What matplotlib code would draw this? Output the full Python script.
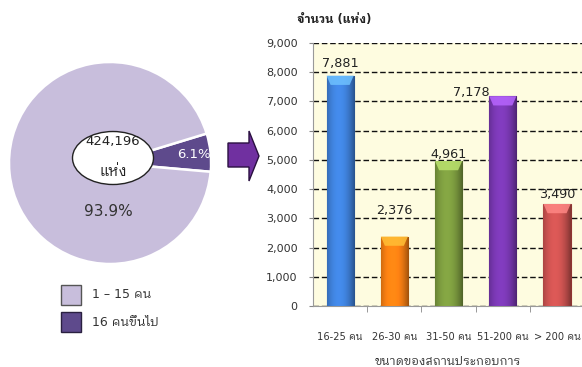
import matplotlib
matplotlib.use("Agg")
import matplotlib.pyplot as plt
from matplotlib import font_manager as fm
from matplotlib.patches import Ellipse, Polygon, Rectangle
from matplotlib.colors import to_rgb
import numpy as np

weights = {}
for f in fm.fontManager.ttflist:
    w = f.weight if isinstance(f.weight, int) else 400
    weights.setdefault(f.name, set()).add(w)
cands = ["Noto Sans Thai Looped", "IBM Plex Sans Thai Looped", "Sarabun",
         "Noto Sans Thai", "IBM Plex Sans Thai", "Kanit", "Prompt"]
thai_font = None
for cand in cands:
    if cand in weights and 400 in weights[cand] and 700 in weights[cand]:
        thai_font = cand
        break
if thai_font is None:
    for cand in cands:
        if cand in weights:
            thai_font = cand
            break
families = ["DejaVu Sans"] + ([thai_font] if thai_font else [])
plt.rcParams['font.family'] = families

# ---- data ----
pie_labels = ["1 – 15 คน", "16 คนขึ้นไป"]
pie_values = [93.9, 6.1]
total_text = "424,196"
total_unit = "แห่ง"

categories = ["16-25 คน", "26-30 คน", "31-50 คน", "51-200 คน", "> 200 คน"]
counts = [7881, 2376, 4961, 7178, 3490]
y_ticks = [0, 1000, 2000, 3000, 4000, 5000, 6000, 7000, 8000, 9000]
y_title = "จำนวน (แห่ง)"
x_title = "ขนาดของสถานประกอบการ"

# ---- style ----
W, H = 582, 367
light_purple = "#C8BEDC"
dark_purple = "#5E4A8C"
bar_colors = ["#3D7DD4", "#F07B12", "#78963D", "#7536AC", "#C6504E"]
bar_edges = ["#25589A", "#B85A08", "#56702A", "#4F2080", "#8E3432"]
label_offsets = [(0, 4), (0, 14), (0, 0), (-23, -2), (0, 2)]  # points

fig = plt.figure(figsize=(W / 100, H / 100), dpi=100)
fig.patch.set_facecolor("white")

# ---- left panel in pixel coordinates ----
pax = fig.add_axes([0, 0, 1, 1])
cx, cy, r = 110, H - 163, 101
wedges, _ = pax.pie(
    [pie_values[1], pie_values[0]],
    colors=[dark_purple, light_purple],
    startangle=-5,
    counterclock=True,
    center=(cx, cy),
    radius=r,
    explode=[0.11, 0],
    wedgeprops=dict(edgecolor="white", linewidth=1.8),
    frame=True,
)
pax.set_xlim(0, W)
pax.set_ylim(0, H)
pax.set_aspect("auto")
pax.axis("off")

pax.add_patch(Ellipse((113, H - 158), 81, 53, facecolor="white",
                      edgecolor="#222222", linewidth=1.0, zorder=5))
pax.text(113, H - 141, total_text, ha="center", va="center", fontsize=9.5,
         color="#222222", zorder=6)
pax.text(113, H - 172, total_unit, ha="center", va="center", fontsize=10.5,
         color="#222222", zorder=6)
pax.text(108, H - 211, f"{pie_values[0]:.1f}%", ha="center", va="center",
         fontsize=11, color="#333333")
pax.text(194, H - 154, f"{pie_values[1]:.1f}%", ha="center", va="center",
         fontsize=9.5, color="white", zorder=6)

# arrow
arrow = Polygon([(228, H - 143), (249, H - 143), (249, H - 131), (259, H - 156),
                 (249, H - 181), (249, H - 167), (228, H - 167)],
                closed=True, facecolor="#7030A0", edgecolor="#2A1040",
                linewidth=1.0)
pax.add_patch(arrow)

# legend
for i, (lab, col) in enumerate(zip(pie_labels, [light_purple, dark_purple])):
    y0 = H - 305 - i * 27
    pax.add_patch(Rectangle((61, y0), 20, 20, facecolor=col,
                            edgecolor="#555555" if i == 0 else "#2A2040",
                            linewidth=1.0))
    pax.text(92, y0 + 10, lab, ha="left", va="center", fontsize=9.0,
             color="#333333")

# ---- bar chart ----
ax = fig.add_axes([313 / W, 1 - 306 / H, 1 - 313 / W, (306 - 43) / H])
ax.set_facecolor("#FEFCE0")
x = np.arange(len(categories))
bars = ax.bar(x, counts, width=0.5, color=bar_colors, edgecolor=bar_edges,
              linewidth=0.8, zorder=3)

# cylinder-like shading clipped to each bar
prof = np.linspace(-1, 1, 64)
shade = 1.12 - 0.35 * (prof + 0.15) ** 2
for b, c in zip(bars, bar_colors):
    base = np.array(to_rgb(c))
    img = np.clip(base[None, None, :] * shade[None, :, None], 0, 1)
    bx, bw, bh = b.get_x(), b.get_width(), b.get_height()
    im = ax.imshow(img, extent=[bx, bx + bw, 0, bh], aspect="auto",
                   zorder=3.5, interpolation="bilinear")
    im.set_clip_path(b)
    cap = 0.035 * 9000
    top = Polygon([(bx, bh), (bx + bw, bh), (bx + bw * 0.85, bh - cap),
                   (bx + bw * 0.15, bh - cap)], closed=True,
                  facecolor=tuple(np.clip(base * 1.3 + 0.12, 0, 1)),
                  edgecolor="none", zorder=3.6, alpha=0.85)
    ax.add_patch(top)
ax.set_xlim(-0.5, 4.46)
ax.set_ylim(0, 9000)

ax.set_yticks(y_ticks)
ax.set_yticklabels([f"{v:,}" for v in y_ticks], fontsize=8, color="#333333")
ax.yaxis.grid(True, linestyle=(0, (4, 2)), color="#111111", linewidth=1.0,
              zorder=1)
ax.set_xticks(x)
ax.set_xticklabels(categories, fontsize=7.1, color="#333333")
ax.tick_params(axis="x", length=0, pad=19)
ax.set_xticks(np.arange(len(categories) - 1) + 0.5, minor=True)
ax.tick_params(axis="x", which="minor", length=4, color="#888888")
ax.tick_params(axis="y", length=3, color="#888888", pad=8)
for s in ["top", "right"]:
    ax.spines[s].set_visible(False)
for s in ["left", "bottom"]:
    ax.spines[s].set_color("#999999")

for b, v, off in zip(bars, counts, label_offsets):
    ax.annotate(f"{v:,}", (b.get_x() + b.get_width() / 2, v),
                xytext=off, textcoords="offset points", ha="center",
                va="bottom", fontsize=9.2, color="#222222", zorder=5)

ax.set_xlabel(x_title, fontsize=8.6, color="#333333", labelpad=9)
fig.text(297 / W, 1 - 20 / H, y_title, ha="left", va="center", fontsize=8.4,
         color="#222222", fontweight="bold")

fig.savefig("out.png", dpi=100)
